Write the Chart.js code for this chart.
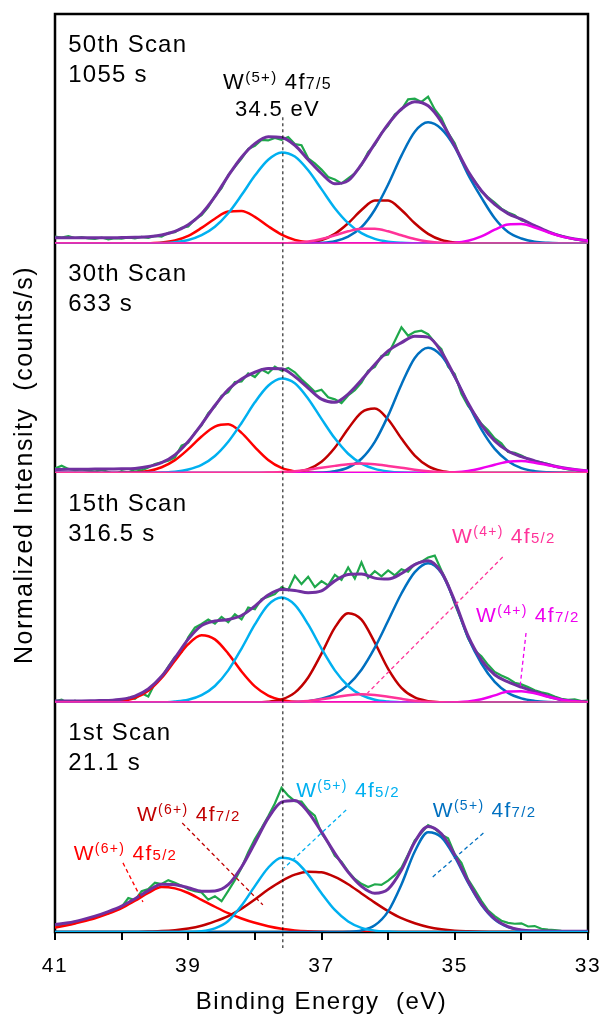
<html>
<head>
<script src="https://cdn.jsdelivr.net/npm/chart.js@4.4.1/dist/chart.umd.min.js"></script>
<style>
	body { margin: 0; background: #fff; }
	#container { width: 603px; height: 1016px; }
</style>
</head>
<body>
<div id="container"><canvas id="myChart" width="603" height="1016"></canvas></div>
<script>
	// binding energy grid (eV) for the fitted curves, and a finer one for the raw scan
	var energy = [41.0,40.8,40.6,40.4,40.2,40.0,39.8,39.6,39.4,39.2,39.0,38.8,38.6,38.4,38.2,38.0,37.8,37.6,37.4,37.2,37.0,
		36.8,36.6,36.4,36.2,36.0,35.8,35.6,35.4,35.2,35.0,34.8,34.6,34.4,34.2,34.0,33.8,33.6,33.4,33.2,33.0];
	var energyFine = [41.0,40.9,40.8,40.7,40.6,40.5,40.4,40.3,40.2,40.1,40.0,39.9,39.8,39.7,39.6,39.5,39.4,39.3,39.2,39.1,
		39.0,38.9,38.8,38.7,38.6,38.5,38.4,38.3,38.2,38.1,38.0,37.9,37.8,37.7,37.6,37.5,37.4,37.3,37.2,37.1,
		37.0,36.9,36.8,36.7,36.6,36.5,36.4,36.3,36.2,36.1,36.0,35.9,35.8,35.7,35.6,35.5,35.4,35.3,35.2,35.1,
		35.0,34.9,34.8,34.7,34.6,34.5,34.4,34.3,34.2,34.1,34.0,33.9,33.8,33.7,33.6,33.5,33.4,33.3,33.2,33.1,33.0];

	var xTicks = [41, 39, 37, 35, 33];
	var scanNames = ["50th Scan", "30th Scan", "15th Scan", "1st Scan"];
	var scanTimes = ["1055 s", "633 s", "316.5 s", "21.1 s"];
	var refEnergy = 37.58;

	// 50th scan (intensity in % of panel height)
	var redA = [0,0,0,0,0,0,0,0.1,0.4,1.3,3.3,6.8,10.8,13.9,14.2,11.6,7.5,3.9,1.6,0.5,0.1,0,0,0,0,0,0,0,0,0,0,0,0,0,0,0,0,0,0,0,0];
	var ltblueA = [0,0,0,0,0,0,0,0,0.2,0.6,1.5,3.6,7.3,13.2,21.1,29.6,36.5,39.7,37.9,31.9,23.7,15.4,8.9,4.5,2.0,0.8,0.3,0.1,0,0,0,0,0,0,0,0,0,0,0,0,0];
	var darkredA = [0,0,0,0,0,0,0,0,0,0,0,0,0,0,0,0,0,0,0.1,0.4,1.5,4.2,8.8,14.6,18.7,18.7,14.6,8.8,4.2,1.5,0.4,0.1,0,0,0,0,0,0,0,0,0];
	var blueA = [0,0,0,0,0,0,0,0,0,0,0,0,0,0,0,0,0,0,0,0.1,0.3,1.0,3.0,7.1,14.7,25.7,38.3,48.7,52.8,49.9,42.0,30.0,20.0,11.0,5.0,2.2,0.8,0.3,0.1,0,0];
	var pinkA = [0,0,0,0,0,0,0,0,0,0,0,0,0,0,0,0,0,0,0.3,0.9,2.0,3.6,5.3,6.4,6.4,5.3,3.6,2.0,0.9,0.3,0.1,0,0,0,0,0,0,0,0,0,0];
	var magentaA = [0,0,0,0,0,0,0,0,0,0,0,0,0,0,0,0,0,0,0,0,0,0,0,0,0,0,0,0,0,0.1,0.3,1.2,3.1,6.0,8.3,8.5,7.0,4.9,3.1,1.9,1.2];
	var envA = [2.5,2.5,2.5,2.5,2.5,2.6,2.7,2.9,3.7,5.3,8.2,13.0,20.4,29.5,37.6,43.5,46.5,46.2,42.8,36.5,30.5,
		26.0,27.4,34.5,43.5,52.0,58.6,61.8,60.0,53.0,42.5,31.5,23.0,17.0,13.0,10.6,7.8,5.2,3.2,2.0,1.2];
	var rawA = [3.0,2.6,3.2,2.4,2.8,2.2,2.0,2.6,1.8,2.3,2.1,2.7,2.2,2.9,2.4,3.3,3.0,4.6,4.9,6.8,
		7.4,10.5,12.3,15.9,20.6,24.1,29.8,33.4,37.0,41.2,42.6,45.1,44.9,46.0,45.2,46.4,43.3,42.8,37.1,34.9,
		32.2,29.0,27.9,26.2,28.4,30.6,34.1,39.8,43.0,48.1,51.4,56.2,58.3,62.8,63.1,61.7,64.0,58.4,54.6,48.2,
		43.7,36.1,31.0,27.3,22.6,20.1,17.8,15.2,13.5,12.3,10.1,9.2,7.4,6.3,5.0,4.1,3.3,2.4,1.9,1.3,1.0];

	// 30th scan
	var redB = [0,0,0,0,0,0.1,0.3,0.9,2.5,5.6,10.4,15.9,20.2,21.2,17.5,11.3,5.7,2.2,0.7,0.2,0,0,0,0,0,0,0,0,0,0,0,0,0,0,0,0,0,0,0,0,0];
	var ltblueB = [0,0,0,0,0,0,0,0,0.2,0.5,1.5,3.5,7.4,13.6,21.8,30.8,38.0,41.2,39.1,32.4,23.6,15.1,8.4,4.1,1.8,0.7,0.2,0.1,0,0,0,0,0,0,0,0,0,0,0,0,0];
	var darkredB = [0,0,0,0,0,0,0,0,0,0,0,0,0,0,0,0,0,0.1,0.5,1.7,4.9,11.0,19.3,26.4,28.1,23.3,15.0,7.6,3.0,0.9,0.2,0,0,0,0,0,0,0,0,0,0];
	var blueB = [0,0,0,0,0,0,0,0,0,0,0,0,0,0,0,0,0,0,0,0,0.2,0.8,2.4,6.2,13.6,25.0,38.6,50.1,54.6,51.1,41.9,30.1,19.0,10.5,5.1,2.1,0.8,0.3,0.1,0,0];
	var pinkB = [0,0,0,0,0,0,0,0,0,0,0,0,0,0,0,0,0.2,0.4,0.8,1.4,2.3,3.1,3.8,4.1,3.8,3.1,2.3,1.4,0.8,0.4,0.2,0.1,0,0,0,0,0,0,0,0,0];
	var magentaB = [0,0,0,0,0,0,0,0,0,0,0,0,0,0,0,0,0,0,0,0,0,0,0,0,0,0,0,0,0,0.1,0.3,0.9,2.1,3.6,4.9,5.2,4.5,3.4,2.3,1.5,0.9];
	var envB = [1.5,1.6,1.6,1.7,1.7,1.8,2.0,2.8,4.5,7.9,13.7,21.2,29.4,36.4,41.0,43.9,45.5,45.4,42.0,37.0,32.2,
		30.8,34.4,40.5,47.3,53.2,56.8,59.6,59.2,52.8,42.0,30.5,21.0,14.0,9.6,7.1,5.3,3.7,2.4,1.5,0.9];
	var rawB = [2.0,3.2,1.8,1.2,1.6,1.0,0.6,1.4,0.4,-0.6,0.8,0.2,1.6,1.2,2.4,3.9,4.6,5.4,6.8,11.9,
		13.2,17.6,20.8,26.1,29.0,33.6,35.2,39.6,39.9,43.4,41.8,45.1,43.5,46.3,44.6,45.8,43.9,40.8,38.2,35.4,
		36.3,33.0,32.1,30.5,33.8,36.1,39.4,44.5,46.2,51.0,51.6,57.5,63.5,59.8,61.5,62.0,60.5,56.9,54.0,46.3,
		43.1,34.5,29.2,25.6,21.4,18.6,15.1,12.9,9.2,8.8,7.6,6.1,5.2,4.6,3.9,2.8,2.2,1.6,1.4,0.8,0.5];

	// 15th scan
	var redC = [0,0,0,0,0.1,0.6,2.0,5.1,10.7,18.2,25.4,29.3,27.5,21.3,13.5,7.0,3.0,1.1,0.3,0.1,0,0,0,0,0,0,0,0,0,0,0,0,0,0,0,0,0,0,0,0,0];
	var ltblueC = [0,0,0,0,0,0,0,0,0,0.4,1.2,3.2,7.2,14.0,23.5,34.0,42.5,45.7,42.5,34.0,23.5,14.0,7.2,3.2,1.2,0.4,0.1,0,0,0,0,0,0,0,0,0,0,0,0,0,0];
	var darkredC = [0,0,0,0,0,0,0,0,0,0,0,0,0,0,0,0,0.3,1.3,4.3,10.9,21.3,32.6,38.9,36.1,26.1,14.7,6.4,2.2,0.6,0.1,0,0,0,0,0,0,0,0,0,0,0];
	var blueC = [0,0,0,0,0,0,0,0,0,0,0,0,0,0,0,0,0,0,0.2,0.6,1.6,3.7,7.7,14.3,23.9,35.6,47.5,56.8,60.7,56.4,43.8,28.3,17.0,9.0,4.2,1.8,0.7,0.2,0,0,0];
	var pinkC = [0,0,0,0,0,0,0,0,0,0,0,0,0,0,0,0,0,0,0.3,0.7,1.4,2.3,3.2,3.6,3.3,2.5,1.6,0.8,0.3,0.1,0,0,0,0,0,0,0,0,0,0,0];
	var magentaC = [0,0,0,0,0,0,0,0,0,0,0,0,0,0,0,0,0,0,0,0,0,0,0,0,0,0,0,0,0,0,0.1,0.4,1.4,3.1,4.8,4.9,4.0,2.5,1.2,0.5,0.1];
	var envC = [0.7,0.7,0.7,0.8,0.9,1.4,2.8,5.9,11.4,19.4,27.6,33.5,35.5,36.2,37.9,42.0,46.8,49.2,48.8,47.8,48.6,
		53.0,55.8,56.0,54.2,53.8,56.2,60.1,61.8,56.8,44.2,29.0,18.5,12.1,9.0,6.7,4.7,2.7,1.2,0.5,0.2];
	var rawC = [0.6,1.2,-0.4,0.8,-0.8,0.2,-1.6,0.4,-0.6,1.0,0.8,2.0,1.6,4.0,2.6,8.4,11.0,15.6,19.8,22.0,
		28.4,32.6,34.2,36.1,34.4,37.3,35.0,38.4,36.2,41.4,40.6,45.0,46.1,47.2,50.2,49.0,55.2,51.6,54.8,50.3,
		52.9,51.0,55.6,53.4,58.8,54.0,61.1,54.3,57.2,55.0,57.6,55.4,58.1,57.0,60.3,61.4,63.2,64.0,57.5,51.4,
		43.0,35.8,28.0,22.6,20.1,16.4,13.3,11.8,10.5,8.6,7.9,6.7,5.3,4.4,3.8,2.6,1.6,1.2,1.4,0.6,0.8];

	// 1st scan
	var redD = [2.0,3.0,4.4,6.0,8.0,10.4,13.6,17.0,19.6,19.0,17.0,14.0,11.0,8.2,5.9,4.0,2.5,1.4,0.7,0.3,0.1,0,0,0,0,0,0,0,0,0,0,0,0,0,0,0,0,0,0,0,0];
	var ltblueD = [0,0,0,0,0,0,0,0,0,0,0,0.3,1.6,4.8,11.5,20.0,28.0,32.4,31.0,25.0,16.9,9.6,4.6,1.8,0.6,0.2,0,0,0,0,0,0,0,0,0,0,0,0,0,0,0];
	var darkredD = [0,0,0,0,0,0,0,0.2,0.4,0.8,1.5,2.7,4.6,6.9,10.2,14.2,18.5,22.2,25.0,26.3,26.0,24.0,20.8,16.8,12.8,9.1,6.0,3.8,2.2,1.2,0.6,0.3,0.1,0,0,0,0,0,0,0,0];
	var blueD = [0,0,0,0,0,0,0,0,0,0,0,0,0,0,0,0,0,0,0,0,0,0,0.1,0.7,2.9,9.0,20.7,35.1,43.5,41.3,32.7,21.5,11.9,5.4,2.1,0.7,0.2,0,0,0,0];
	var envD = [3.2,4.0,5.3,6.9,8.9,11.3,14.5,18.0,20.8,20.6,19.3,17.8,17.9,20.6,28.3,38.8,49.6,56.6,57.3,52.2,43.6,
		34.3,26.1,19.9,16.9,18.7,27.0,39.2,46.0,42.8,33.6,22.1,12.3,5.7,2.3,0.9,0.5,0.4,0.3,0.3,0.3];
	var rawD = [2.4,2.9,3.6,3.9,5.0,5.6,6.2,7.4,8.1,9.6,10.9,14.8,13.9,17.8,18.7,21.5,20.9,22.6,21.4,20.2,
		18.6,17.8,17.2,14.1,15.6,13.4,17.9,22.6,28.0,34.8,40.5,45.3,50.4,56.0,62.8,59.4,57.0,56.8,53.1,50.7,
		43.0,38.9,33.2,30.6,26.4,23.1,21.0,19.6,20.8,20.5,22.4,24.8,28.0,33.8,39.9,43.2,46.6,45.0,42.4,40.8,
		33.9,30.1,22.9,18.4,13.6,9.4,6.9,4.9,4.0,3.6,3.8,2.4,2.6,1.4,1.0,0.8,0.5,0.4,0.4,0.3,0.3];

	var FONT = '"Liberation Sans", Arial, sans-serif';
	var GREEN = "#1fa84b", PURPLE = "#7030a0", LTBLUE = "#00b0f0", BLUE = "#0070c0";
	var RED = "#ff0000", DKRED = "#c00000", PINK = "#ff3399", MAGENTA = "#ee00ee";

	// label pieces: [text, font size, raise]
	function wLabel(ox, shell) {
		return [["W", 21, 0], ["(" + ox + ")", 14, 7], [" 4f", 21, 0], [shell, 15, 0]];
	}

	var notes = [
		{ axis: "yA", e: 37.66, v: 67.5, color: "#000", align: "center", parts: [["W", 22, 0], ["(5+)", 15, 7], [" 4f", 22, 0], ["7/5", 16, 0]] },
		{ axis: "yA", e: 37.66, v: 55.5, color: "#000", align: "center", parts: [["34.5 eV", 22, 0]] },
		{ axis: "yC", e: 35.04, v: 69.5, color: PINK, align: "left", parts: wLabel("4+", "5/2") },
		{ axis: "yC", e: 34.68, v: 35.1, color: MAGENTA, align: "left", parts: wLabel("4+", "7/2") },
		{ axis: "yD", e: 40.72, v: 31.4, color: RED, align: "left", parts: wLabel("6+", "5/2") },
		{ axis: "yD", e: 39.77, v: 48.5, color: DKRED, align: "left", parts: wLabel("6+", "7/2") },
		{ axis: "yD", e: 37.38, v: 59.0, color: LTBLUE, align: "left", parts: wLabel("5+", "5/2") },
		{ axis: "yD", e: 35.33, v: 50.1, color: BLUE, align: "left", parts: wLabel("5+", "7/2") }
	];

	var leaders = [
		{ axis: "yC", color: PINK, from: [34.28, 63.4], to: [36.31, 4.1] },
		{ axis: "yC", color: MAGENTA, from: [33.93, 30.3], to: [34.02, 6.8] },
		{ axis: "yD", color: RED, from: [39.98, 30.1], to: [39.68, 13.1] },
		{ axis: "yD", color: DKRED, from: [39.09, 47.5], to: [37.88, 11.8] },
		{ axis: "yD", color: LTBLUE, from: [36.63, 53.2], to: [37.56, 27.9] },
		{ axis: "yD", color: BLUE, from: [34.57, 43.1], to: [35.33, 24.0] }
	];

	function line(axis, xs, ys, color, width, smooth) {
		return {
			yAxisID: axis,
			data: xs.map(function (x, i) { return { x: x, y: ys[i] }; }),
			borderColor: color,
			borderWidth: width,
			pointRadius: 0,
			fill: false,
			tension: 0,
			cubicInterpolationMode: smooth ? "monotone" : "default"
		};
	}

	var datasets = [];
	function addPanel(axis, pink, magenta, env, ltblue, blue, darkred, red, raw) {
		if (pink) datasets.push(line(axis, energy, pink, PINK, 2.5, true));
		if (magenta) datasets.push(line(axis, energy, magenta, MAGENTA, 2.5, true));
		if (!pink) datasets.push(line(axis, energy, ltblue, LTBLUE, 2.5, true));
		datasets.push(line(axis, energy, env, PURPLE, 3, true));
		if (pink) datasets.push(line(axis, energy, ltblue, LTBLUE, 2.5, true));
		datasets.push(line(axis, energy, blue, BLUE, 2.5, true));
		datasets.push(line(axis, energy, darkred, DKRED, 2.5, true));
		datasets.push(line(axis, energy, red, RED, 2.5, true));
		datasets.push(line(axis, energyFine, raw, GREEN, 2.2, false));
	}
	addPanel("yA", pinkA, magentaA, envA, ltblueA, blueA, darkredA, redA, rawA);
	addPanel("yB", pinkB, magentaB, envB, ltblueB, blueB, darkredB, redB, rawB);
	addPanel("yC", pinkC, magentaC, envC, ltblueC, blueC, darkredC, redC, rawC);
	addPanel("yD", null, null, envD, ltblueD, blueD, darkredD, redD, rawD);

	function drawParts(c, parts, x, y, color, align) {
		var total = 0, i;
		for (i = 0; i < parts.length; i++) {
			c.font = parts[i][1] + "px " + FONT;
			total += c.measureText(parts[i][0]).width;
		}
		var px = align === "center" ? x - total / 2 : x;
		c.fillStyle = color;
		c.textAlign = "left";
		c.textBaseline = "alphabetic";
		for (i = 0; i < parts.length; i++) {
			c.font = parts[i][1] + "px " + FONT;
			c.fillText(parts[i][0], px, y - parts[i][2]);
			px += c.measureText(parts[i][0]).width;
		}
	}

	var framePlugin = {
		id: "frame",
		beforeDraw: function (chart) {
			var c = chart.ctx;
			c.save();
			c.fillStyle = "#fff";
			c.fillRect(0, 0, chart.width, chart.height);
			c.restore();
			c.letterSpacing = "1.5px";
		},
		beforeDatasetsDraw: function (chart) {
			var a = chart.chartArea, c = chart.ctx;
			c.save();
			c.strokeStyle = "#000";
			c.lineWidth = 2.5;
			c.strokeRect(a.left, a.top, a.right - a.left, a.bottom - a.top);
			c.restore();
		},
		afterDatasetsDraw: function (chart) {
			var c = chart.ctx, a = chart.chartArea, x = chart.scales.x;
			var panelAxes = ["yA", "yB", "yC", "yD"];
			c.save();

			// reference line through all scans
			c.strokeStyle = "#000";
			c.lineWidth = 1;
			c.setLineDash([3, 3]);
			c.beginPath();
			c.moveTo(x.getPixelForValue(refEnergy), chart.scales.yA.getPixelForValue(55));
			c.lineTo(x.getPixelForValue(refEnergy), a.bottom + 16);
			c.stroke();

			// leader lines
			c.lineWidth = 1.3;
			c.setLineDash([4, 3]);
			leaders.forEach(function (l) {
				var y = chart.scales[l.axis];
				c.strokeStyle = l.color;
				c.beginPath();
				c.moveTo(x.getPixelForValue(l.from[0]), y.getPixelForValue(l.from[1]));
				c.lineTo(x.getPixelForValue(l.to[0]), y.getPixelForValue(l.to[1]));
				c.stroke();
			});
			c.setLineDash([]);

			c.letterSpacing = "1.3px";
			notes.forEach(function (n) {
				var y = chart.scales[n.axis];
				drawParts(c, n.parts, x.getPixelForValue(n.e), y.getPixelForValue(n.v), n.color, n.align);
			});

			// scan names and times
			c.letterSpacing = "1.2px";
			for (var i = 0; i < panelAxes.length; i++) {
				var ys = chart.scales[panelAxes[i]];
				drawParts(c, [[scanNames[i], 24, 0]], x.getPixelForValue(40.8), ys.getPixelForValue(83.5), "#000", "left");
				drawParts(c, [[scanTimes[i], 24, 0]], x.getPixelForValue(40.8), ys.getPixelForValue(70.5), "#000", "left");
			}

			// axis titles
			c.letterSpacing = "1.5px";
			c.fillStyle = "#000";
			c.textAlign = "center";
			c.textBaseline = "alphabetic";
			c.font = "24px " + FONT;
			c.fillText("Binding Energy  (eV)", (a.left + a.right) / 2, a.bottom + 77);
			c.translate(32, (a.top + a.bottom) / 2 - 8);
			c.rotate(-Math.PI / 2);
			c.font = "25px " + FONT;
			c.fillText("Normalized Intensity  (counts/s)", 0, 0);
			c.restore();
		}
	};

	function panelAxis() {
		return { type: "linear", display: false, position: "left", stack: "scan", stackWeight: 1, min: 0, max: 100 };
	}

	var ctx = document.getElementById("myChart").getContext("2d");
	var myChart = new Chart(ctx, {
		type: "line",
		data: { datasets: datasets },
		options: {
			responsive: false,
			devicePixelRatio: 1,
			animation: false,
			layout: { padding: { left: 55, right: 15, top: 14, bottom: 24 } },
			plugins: { legend: { display: false }, tooltip: { enabled: false } },
			scales: {
				x: {
					type: "linear",
					position: "bottom",
					reverse: true,
					min: 33,
					max: 41,
					afterFit: function (s) { s.height = 60; s.paddingLeft = 0; s.paddingRight = 0; },
					ticks: {
						stepSize: 1,
						autoSkip: false,
						maxRotation: 0,
						padding: 14,
						color: "#000",
						font: { family: FONT, size: 21 },
						callback: function (v) { return xTicks.indexOf(v) >= 0 ? String(v) : ""; }
					},
					grid: { drawOnChartArea: false, drawTicks: true, tickLength: 8, tickWidth: 2, tickColor: "#000", color: "#000", lineWidth: 2 },
					border: { display: false }
				},
				yD: panelAxis(),
				yC: panelAxis(),
				yB: panelAxis(),
				yA: panelAxis()
			}
		},
		plugins: [framePlugin]
	});
</script>
</body>
</html>
